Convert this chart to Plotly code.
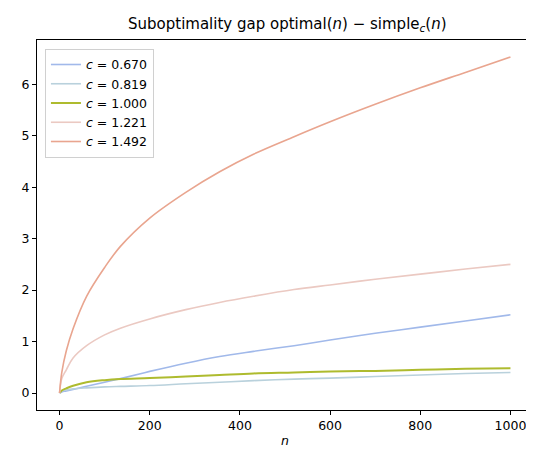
import plotly.graph_objects as go

# sample points along n
n_values = [0, 5, 15, 30, 60, 100, 135, 200, 280, 355, 430, 520, 600, 700, 800, 900, 1000]

c_labels = ["0.670", "0.819", "1.000", "1.221", "1.492"]

gap_c0670 = [0, 0.02, 0.04, 0.07, 0.13, 0.21, 0.28, 0.42, 0.58, 0.71, 0.81, 0.92, 1.03, 1.16, 1.28, 1.40, 1.52]
gap_c0819 = [0, 0.04, 0.06, 0.08, 0.10, 0.12, 0.13, 0.145, 0.18, 0.21, 0.24, 0.27, 0.29, 0.32, 0.35, 0.38, 0.40]
gap_c1000 = [0, 0.05, 0.09, 0.14, 0.21, 0.25, 0.27, 0.29, 0.32, 0.35, 0.38, 0.40, 0.42, 0.43, 0.45, 0.47, 0.48]
gap_c1221 = [0, 0.28, 0.45, 0.68, 0.92, 1.13, 1.26, 1.44, 1.62, 1.76, 1.88, 2.01, 2.10, 2.21, 2.31, 2.41, 2.50]
gap_c1492 = [0, 0.40, 0.82, 1.25, 1.88, 2.44, 2.85, 3.40, 3.90, 4.30, 4.64, 4.98, 5.27, 5.61, 5.93, 6.23, 6.53]

series = [gap_c0670, gap_c0819, gap_c1000, gap_c1221, gap_c1492]
colors = ["#a1b9ea", "#b9d1dc", "#aebb2e", "#ebc9c2", "#e9a58f"]
widths = [1.6, 1.6, 2.0, 1.6, 1.6]

font_family = "DejaVu Sans"

fig = go.Figure()

for label, ys, color, w in zip(c_labels, series, colors, widths):
    fig.add_trace(
        go.Scatter(
            x=n_values, y=ys, mode="lines", name=f"<i>c</i> = {label}",
            line=dict(color=color, width=w, shape="spline", smoothing=1.0),
        )
    )

axis_style = dict(
    showline=True, linecolor="black", linewidth=1, mirror=True,
    ticks="outside", ticklen=4, tickcolor="black",
    showgrid=False, zeroline=False,
    tickfont=dict(family=font_family, size=12.5, color="black"),
)

fig.update_layout(
    width=534, height=455,
    margin=dict(l=29, r=9, t=32, b=53),
    paper_bgcolor="white", plot_bgcolor="white",
    font=dict(family=font_family, color="black"),
    title=dict(
        text="Suboptimality gap optimal(<i>n</i>) \u2212 simple<sub><i>c</i></sub>(<i>n</i>)",
        x=0.523, xanchor="center", y=0.965, yanchor="middle",
        font=dict(family=font_family, size=15, color="black"),
    ),
    legend=dict(
        x=0.016, y=0.976, xanchor="left", yanchor="top",
        bgcolor="rgba(255,255,255,0.8)", bordercolor="#d0d0d0", borderwidth=1,
        font=dict(family=font_family, size=12.5, color="black"),
        tracegroupgap=0, itemwidth=30,
    ),
    showlegend=True,
)

fig.update_xaxes(
    range=[-50, 1050], tickvals=[0, 200, 400, 600, 800, 1000],
    title=dict(text="<i>n</i>", font=dict(family=font_family, size=12.5), standoff=4),
    **axis_style,
)
fig.update_yaxes(
    range=[-0.33, 6.86], tickvals=[0, 1, 2, 3, 4, 5, 6],
    **axis_style,
)

fig.write_html("out.html")
